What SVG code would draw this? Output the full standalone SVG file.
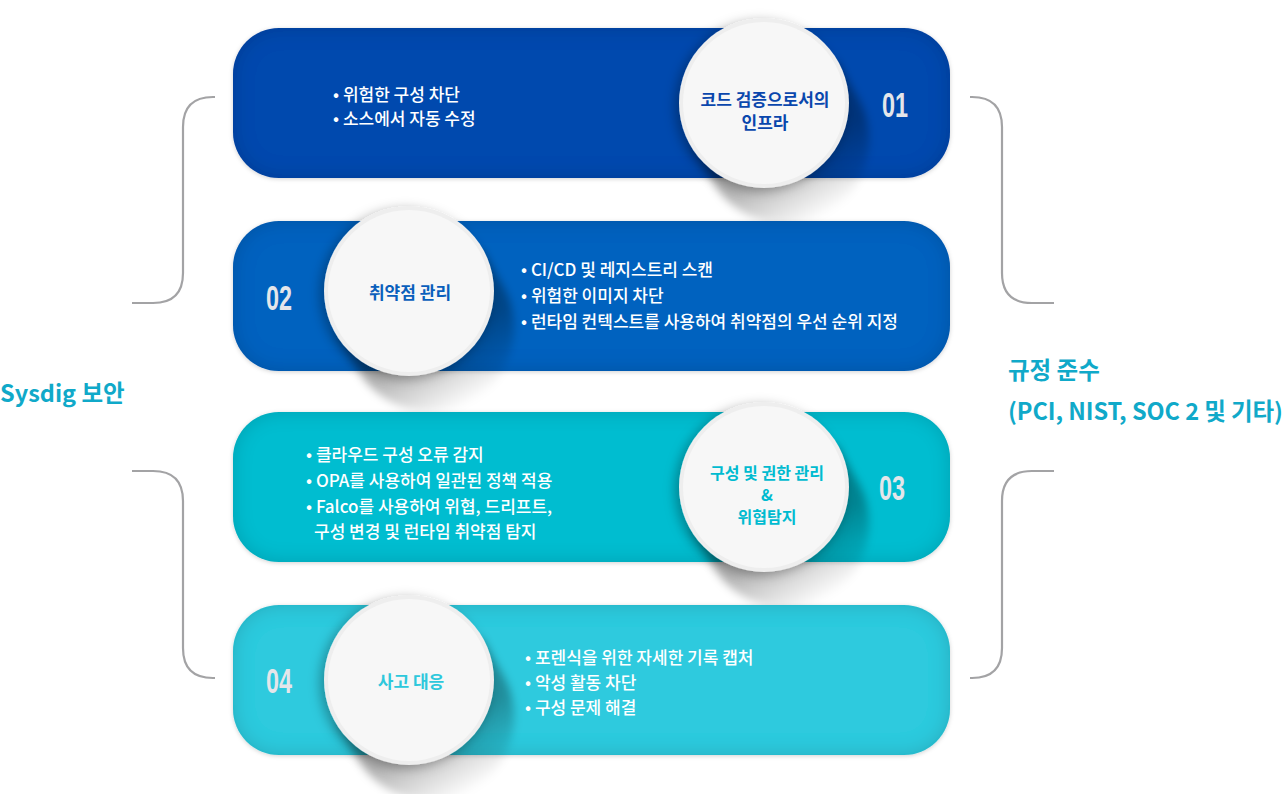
<svg xmlns="http://www.w3.org/2000/svg" width="1285" height="794" viewBox="0 0 1285 794">
<style>
.br{fill:none;stroke:#a3a3a5;stroke-width:2.2}
.side{font-family:'Noto Sans CJK KR','Noto Sans',sans-serif;font-weight:700;font-size:23.5px;fill:#10a9c9}
.bul{font-family:'Noto Sans CJK KR','Noto Sans',sans-serif;font-weight:500;font-size:17px;fill:#ffffff}
.ttl{font-family:'Noto Sans CJK KR','Noto Sans',sans-serif;font-weight:700;font-size:17px;text-anchor:middle}
.t3{font-size:16px}
.num{font-family:'Liberation Sans',Arial,sans-serif;font-weight:700;font-size:36px;fill:#e4e6ea;text-anchor:middle}
.ring{fill:#eeeeee}
.face{fill:#f7f7f7}
.lsh{fill:url(#lg);filter:url(#soft)}
</style>
<defs>
<filter id="card" x="-5%" y="-20%" width="110%" height="145%">
<feComponentTransfer in="SourceAlpha" result="inv"><feFuncA type="table" tableValues="1 0"/></feComponentTransfer>
<feGaussianBlur in="inv" stdDeviation="10" result="ib"/>
<feComposite in="ib" in2="SourceAlpha" operator="in" result="inner"/>
<feFlood flood-color="#000" flood-opacity="0.32"/>
<feComposite in2="inner" operator="in" result="ishadow"/>
<feGaussianBlur in="SourceAlpha" stdDeviation="2" result="ob"/>
<feOffset in="ob" dy="1" result="oo"/>
<feFlood flood-color="#000" flood-opacity="0.18"/>
<feComposite in2="oo" operator="in" result="oshadow"/>
<feMerge><feMergeNode in="oshadow"/><feMergeNode in="SourceGraphic"/><feMergeNode in="ishadow"/></feMerge>
</filter>
<filter id="cs" x="-30%" y="-30%" width="160%" height="160%">
<feDropShadow dx="-4" dy="3" stdDeviation="6" flood-color="#000" flood-opacity="0.3"/>
</filter>
<filter id="soft" x="-30%" y="-30%" width="160%" height="160%">
<feGaussianBlur stdDeviation="4"/>
</filter>
<linearGradient id="lg" gradientUnits="userSpaceOnUse" x1="30" y1="52" x2="64" y2="111">
<stop offset="0" stop-color="#000" stop-opacity="0.3"/>
<stop offset="1" stop-color="#000" stop-opacity="0"/>
</linearGradient>
</defs>

<g id="connectors">
<path class="br" d="M215 97 H213 Q183 97 183 127 V273 Q183 303 153 303 H132"/>
<path class="br" d="M132 471 H153 Q183 471 183 501 V648 Q183 678 213 678 H215"/>
<path class="br" d="M970 97 H972 Q1002 97 1002 127 V273 Q1002 303 1032 303 H1054"/>
<path class="br" d="M1054 471 H1032 Q1002 471 1002 501 V648 Q1002 678 972 678 H970"/>
</g>

<g id="label-sysdig">
<text class="side" x="0" y="402">Sysdig 보안</text>
</g>
<g id="label-compliance">
<text class="side" x="1008" y="379">규정 준수</text>
<text class="side" x="1008" y="420" textLength="275">(PCI, NIST, SOC 2 및 기타)</text>
</g>

<g id="card1">
<rect x="233" y="28" width="717" height="150" rx="46" fill="#0448ae" filter="url(#card)"/>
<path class="lsh" transform="translate(764,103)" d="M72.7 -42 L95.2 -3 A84 84 0 0 1 -50.2 81 L-72.7 42 Z"/>
<g filter="url(#cs)"><circle class="ring" cx="764" cy="103" r="85"/></g>
<circle class="face" cx="764" cy="103" r="81"/>
<text class="ttl" x="765" y="106" fill="#0a47ad">코드 검증으로서의</text>
<text class="ttl" x="765" y="129" fill="#0a47ad">인프라</text>
<text class="num" transform="translate(895,117) scale(0.65,1)">01</text>
<text class="bul" x="333" y="101">• 위험한 구성 차단</text>
<text class="bul" x="333" y="125">• 소스에서 자동 수정</text>
</g>

<g id="card2">
<rect x="233" y="221" width="717" height="150" rx="46" fill="#0062bf" filter="url(#card)"/>
<path class="lsh" transform="translate(409,291)" d="M72.7 -42 L95.2 -3 A84 84 0 0 1 -50.2 81 L-72.7 42 Z"/>
<g filter="url(#cs)"><circle class="ring" cx="409" cy="291" r="85"/></g>
<circle class="face" cx="409" cy="291" r="81"/>
<text class="ttl" x="410" y="299" fill="#0a5fbc">취약점 관리</text>
<text class="num" transform="translate(279,310) scale(0.65,1)">02</text>
<text class="bul" x="521" y="276">• CI/CD 및 레지스트리 스캔</text>
<text class="bul" x="521" y="302">• 위험한 이미지 차단</text>
<text class="bul" x="521" y="328">• 런타임 컨텍스트를 사용하여 취약점의 우선 순위 지정</text>
</g>

<g id="card3">
<rect x="233" y="412" width="717" height="150" rx="46" fill="#00bdd0" filter="url(#card)"/>
<path class="lsh" transform="translate(764,487)" d="M72.7 -42 L95.2 -3 A84 84 0 0 1 -50.2 81 L-72.7 42 Z"/>
<g filter="url(#cs)"><circle class="ring" cx="764" cy="487" r="85"/></g>
<circle class="face" cx="764" cy="487" r="81"/>
<text class="ttl t3" x="767" y="479" fill="#00bbd0">구성 및 권한 관리</text>
<text class="ttl t3" x="767" y="501" fill="#00bbd0">&amp;</text>
<text class="ttl t3" x="767" y="523" fill="#00bbd0">위협탐지</text>
<text class="num" transform="translate(892,500) scale(0.65,1)">03</text>
<text class="bul" x="306" y="461">• 클라우드 구성 오류 감지</text>
<text class="bul" x="306" y="487">• OPA를 사용하여 일관된 정책 적용</text>
<text class="bul" x="306" y="513">• Falco를 사용하여 위협, 드리프트,</text>
<text class="bul" x="314" y="538">구성 변경 및 런타임 취약점 탐지</text>
</g>

<g id="card4">
<rect x="233" y="605" width="717" height="150" rx="46" fill="#2ecade" filter="url(#card)"/>
<path class="lsh" transform="translate(409,680)" d="M72.7 -42 L95.2 -3 A84 84 0 0 1 -50.2 81 L-72.7 42 Z"/>
<g filter="url(#cs)"><circle class="ring" cx="409" cy="680" r="85"/></g>
<circle class="face" cx="409" cy="680" r="81"/>
<text class="ttl" x="411" y="688" fill="#2ec8dc">사고 대응</text>
<text class="num" transform="translate(279,693) scale(0.65,1)">04</text>
<text class="bul" x="525" y="664">• 포렌식을 위한 자세한 기록 캡처</text>
<text class="bul" x="525" y="689">• 악성 활동 차단</text>
<text class="bul" x="525" y="714">• 구성 문제 해결</text>
</g>
</svg>
